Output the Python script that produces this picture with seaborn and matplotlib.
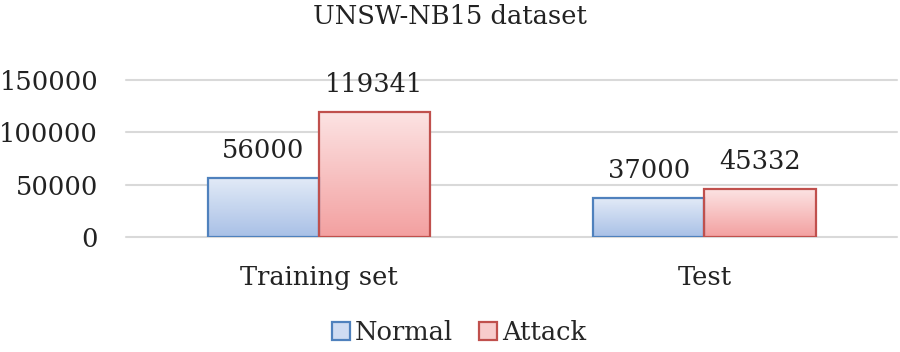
import numpy as np
import pandas as pd
import matplotlib.pyplot as plt
import seaborn as sns
from matplotlib.colors import LinearSegmentedColormap
from matplotlib.patches import Patch

# Data
sets = ["Training set", "Test"]
classes = ["Normal", "Attack"]
normal_counts = [56000, 37000]
attack_counts = [119341, 45332]

df = pd.DataFrame({
    "set": sets * 2,
    "class": ["Normal"] * 2 + ["Attack"] * 2,
    "count": normal_counts + attack_counts,
})

edge_colors = {"Normal": "#4F81BD", "Attack": "#C0504D"}
grad_colors = {
    "Normal": ("#E2EAF7", "#A8C0E6"),   # top, bottom
    "Attack": ("#FCE3E3", "#F3A0A0"),
}
fs = 18.5

sns.set_style("white")
plt.rcParams["font.family"] = ["DejaVu Serif"]

fig = plt.figure(figsize=(9, 3.52), dpi=100)
ax = fig.add_axes([0.14, 0.327, 0.857, 0.446])

sns.barplot(data=df, x="set", y="count", hue="class", hue_order=classes,
            order=sets, width=0.577, ax=ax, legend=False, saturation=1,
            palette={"Normal": "#C5D5EE", "Attack": "#F8C5C5"})

# gradient fill inside every bar
for container, cls in zip(ax.containers, classes):
    cmap = LinearSegmentedColormap.from_list(cls, [grad_colors[cls][1], grad_colors[cls][0]])
    for bar in container:
        x0, y0 = bar.get_x(), bar.get_y()
        w, h = bar.get_width(), bar.get_height()
        grad = np.linspace(0, 1, 256).reshape(-1, 1)
        im = ax.imshow(grad, cmap=cmap, origin="lower", aspect="auto",
                       extent=[x0, x0 + w, y0, y0 + h], zorder=2)
        im.set_clip_path(bar)
        bar.set_facecolor("none")
        bar.set_edgecolor(edge_colors[cls])
        bar.set_linewidth(1.6)
        bar.set_zorder(3)
    ax.bar_label(container, labels=[f"{int(v)}" for v in container.datavalues],
                 padding=11, fontsize=fs, color="#222222")

ax.set_aspect("auto")
ax.set_xlim(-0.5, 1.5)
ax.set_ylim(0, 150000)

ax.set_yticks([0, 50000, 100000, 150000])
ax.yaxis.grid(True, color="#D9D9D9", linewidth=1.5)
for gl in ax.get_ygridlines():
    gl.set_clip_on(False)
ax.set_axisbelow(True)
for s in ax.spines.values():
    s.set_visible(False)
ax.tick_params(axis="y", length=0, labelsize=fs, colors="#222222", pad=20)
ax.tick_params(axis="x", length=0, labelsize=fs, colors="#222222", pad=20)
ax.set_xlabel("")
ax.set_ylabel("")
fig.suptitle("UNSW-NB15 dataset", y=0.99, fontsize=fs, color="#222222")

handles = [Patch(facecolor="#CFDCF2", edgecolor=edge_colors["Normal"], linewidth=1.6),
           Patch(facecolor="#F8CCCC", edgecolor=edge_colors["Attack"], linewidth=1.6)]
fig.legend(handles, classes, loc="lower center", bbox_to_anchor=(0.51, -0.045), ncol=2,
           frameon=False, fontsize=fs, handlelength=0.7, handleheight=0.7,
           handletextpad=0.2, columnspacing=1.0)

plt.savefig("out.png", dpi=100)
plt.close()
